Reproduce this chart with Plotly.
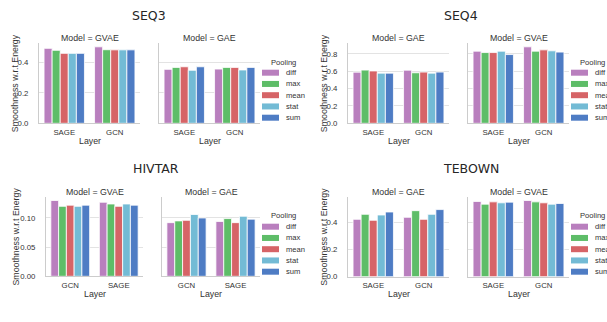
import plotly.graph_objects as go

# ---------------- data ----------------
POOLINGS = ["diff", "max", "mean", "stat", "sum"]
COLORS = ["#B97FBE", "#5EBD68", "#D66467", "#73BBD5", "#4E7CC4"]

# SEQ3
SEQ3_MODELS = ["GVAE", "GAE"]
SEQ3_LAYERS = ["SAGE", "GCN"]
SEQ3_GVAE_SAGE = [0.492, 0.479, 0.459, 0.459, 0.459]
SEQ3_GVAE_GCN = [0.502, 0.483, 0.482, 0.482, 0.482]
SEQ3_GAE_SAGE = [0.354, 0.367, 0.371, 0.348, 0.371]
SEQ3_GAE_GCN = [0.356, 0.367, 0.367, 0.350, 0.367]

# SEQ4
SEQ4_MODELS = ["GAE", "GVAE"]
SEQ4_LAYERS = ["SAGE", "GCN"]
SEQ4_GAE_SAGE = [0.589, 0.613, 0.603, 0.578, 0.578]
SEQ4_GAE_GCN = [0.612, 0.582, 0.590, 0.578, 0.590]
SEQ4_GVAE_SAGE = [0.831, 0.815, 0.815, 0.831, 0.792]
SEQ4_GVAE_GCN = [0.881, 0.831, 0.846, 0.835, 0.820]

# HIVTAR
HIVTAR_MODELS = ["GVAE", "GAE"]
HIVTAR_LAYERS = ["GCN", "SAGE"]
HIVTAR_GVAE_GCN = [0.130, 0.120, 0.122, 0.120, 0.122]
HIVTAR_GVAE_SAGE = [0.127, 0.124, 0.120, 0.124, 0.122]
HIVTAR_GAE_GCN = [0.092, 0.095, 0.096, 0.106, 0.100]
HIVTAR_GAE_SAGE = [0.094, 0.099, 0.092, 0.103, 0.098]

# TEBOWN
TEBOWN_MODELS = ["GAE", "GVAE"]
TEBOWN_LAYERS = ["SAGE", "GCN"]
TEBOWN_GAE_SAGE = [0.424, 0.461, 0.417, 0.456, 0.478]
TEBOWN_GAE_GCN = [0.439, 0.488, 0.424, 0.461, 0.496]
TEBOWN_GVAE_SAGE = [0.556, 0.536, 0.553, 0.546, 0.551]
TEBOWN_GVAE_GCN = [0.563, 0.553, 0.546, 0.536, 0.541]

SEQ3_TICKS = [0.0, 0.2, 0.4]
SEQ4_TICKS = [0.0, 0.2, 0.4, 0.6, 0.8]
HIVTAR_TICKS = [0.0, 0.05, 0.10]
TEBOWN_TICKS = [0.0, 0.2, 0.4]

# ---------------- layout helpers (pixel geometry) ----------------
W, H = 607, 322


def fx(x):
    return x / W


def fy(y):
    return 1 - y / H


TEXT = "#333333"
FONT = "Liberation Sans"

panels = [
    dict(title="SEQ3", tx=149, ty=16, models=SEQ3_MODELS, layers=SEQ3_LAYERS,
         vals=[[SEQ3_GVAE_SAGE, SEQ3_GVAE_GCN], [SEQ3_GAE_SAGE, SEQ3_GAE_GCN]],
         ticks=SEQ3_TICKS, fmt="{:.1f}", axes=[(39, 140), (159, 260)],
         ytop=43, ybot=123.3, ylab_x=15, sub_y=37.5, layer_y=140.5,
         leg_x=262, leg_ty=62, leg_y0=72.7),
    dict(title="SEQ4", tx=461, ty=16, models=SEQ4_MODELS, layers=SEQ4_LAYERS,
         vals=[[SEQ4_GAE_SAGE, SEQ4_GAE_GCN], [SEQ4_GVAE_SAGE, SEQ4_GVAE_GCN]],
         ticks=SEQ4_TICKS, fmt="{:.1f}", axes=[(348, 449), (468, 569)],
         ytop=43, ybot=123.3, ylab_x=324, sub_y=37.5, layer_y=140.5,
         leg_x=571, leg_ty=62, leg_y0=72.7),
    dict(title="HIVTAR", tx=156, ty=168, models=HIVTAR_MODELS, layers=HIVTAR_LAYERS,
         vals=[[HIVTAR_GVAE_GCN, HIVTAR_GVAE_SAGE], [HIVTAR_GAE_GCN, HIVTAR_GAE_SAGE]],
         ticks=HIVTAR_TICKS, fmt="{:.2f}", axes=[(46, 143), (162, 260)],
         ytop=196.7, ybot=276.3, ylab_x=15, sub_y=191.7, layer_y=294,
         leg_x=262, leg_ty=215, leg_y0=226.7),
    dict(title="TEBOWN", tx=471, ty=168, models=TEBOWN_MODELS, layers=TEBOWN_LAYERS,
         vals=[[TEBOWN_GAE_SAGE, TEBOWN_GAE_GCN], [TEBOWN_GVAE_SAGE, TEBOWN_GVAE_GCN]],
         ticks=TEBOWN_TICKS, fmt="{:.1f}", axes=[(348, 449), (468, 569)],
         ytop=196.7, ybot=276.7, ylab_x=324, sub_y=191.7, layer_y=294,
         leg_x=571, leg_ty=215, leg_y0=226.7),
]

fig = go.Figure()
layout = {}
annotations = []
shapes = []
LEG_STEP = 11.25

ax_i = 0
for p in panels:
    all_vals = [v for model in p["vals"] for layer in model for v in layer]
    ymax = max(all_vals) * 1.05
    for m_idx, (x0, x1) in enumerate(p["axes"]):
        ax_i += 1
        xa = "x" if ax_i == 1 else f"x{ax_i}"
        ya = "y" if ax_i == 1 else f"y{ax_i}"
        xkey = "xaxis" if ax_i == 1 else f"xaxis{ax_i}"
        ykey = "yaxis" if ax_i == 1 else f"yaxis{ax_i}"
        first_layer, second_layer = p["vals"][m_idx]
        for k, pool in enumerate(POOLINGS):
            fig.add_trace(go.Bar(
                x=p["layers"], y=[first_layer[k], second_layer[k]], name=pool,
                xaxis=xa, yaxis=ya, offsetgroup=pool,
                marker=dict(color=COLORS[k], line=dict(color="white", width=0.8)),
                showlegend=False,
            ))
        layout[xkey] = dict(
            domain=[fx(x0), fx(x1)], anchor=ya, type="category",
            categoryorder="array", categoryarray=p["layers"], range=[-0.5, 1.5],
            showgrid=False, zeroline=False, showline=True, linecolor="#CCCCCC",
            linewidth=1, ticks="", tickfont=dict(family=FONT, size=7.8, color=TEXT),
            ticklabelstandoff=1, automargin=False,
        )
        layout[ykey] = dict(
            domain=[fy(p["ybot"]), fy(p["ytop"])], anchor=xa, range=[0, ymax],
            tickvals=p["ticks"], ticktext=[p["fmt"].format(t) for t in p["ticks"]],
            showticklabels=(m_idx == 0), showgrid=True, gridcolor="#E3E3E3",
            gridwidth=1, zeroline=False, showline=True, linecolor="#CCCCCC",
            linewidth=1, ticks="", tickfont=dict(family=FONT, size=7.8, color=TEXT),
            ticklabelstandoff=8, automargin=False,
        )
        annotations.append(dict(
            text=f"Model = {p['models'][m_idx]}", x=fx((x0 + x1) / 2), y=fy(p["sub_y"]),
            xref="paper", yref="paper", showarrow=False, xanchor="center", yanchor="middle",
            font=dict(family=FONT, size=8.8, color=TEXT)))
        annotations.append(dict(
            text="Layer", x=fx((x0 + x1) / 2), y=fy(p["layer_y"]),
            xref="paper", yref="paper", showarrow=False, xanchor="center", yanchor="middle",
            font=dict(family=FONT, size=8.8, color=TEXT)))
    annotations.append(dict(
        text="Smoothness w.r.t Energy", x=fx(p["ylab_x"]), y=fy((p["ytop"] + p["ybot"]) / 2),
        xref="paper", yref="paper", showarrow=False, textangle=-90,
        xanchor="center", yanchor="middle", font=dict(family=FONT, size=8.8, color=TEXT)))
    annotations.append(dict(
        text=p["title"], x=fx(p["tx"]), y=fy(p["ty"]), xref="paper", yref="paper",
        showarrow=False, xanchor="center", yanchor="middle",
        font=dict(family="DejaVu Sans", size=12.5, color="#262626")))
    annotations.append(dict(
        text="Pooling", x=fx(p["leg_x"] + 21), y=fy(p["leg_ty"]), xref="paper", yref="paper",
        showarrow=False, xanchor="center", yanchor="middle",
        font=dict(family=FONT, size=7.6, color=TEXT)))
    for k, pool in enumerate(POOLINGS):
        cy = p["leg_y0"] + k * LEG_STEP
        shapes.append(dict(
            type="rect", xref="paper", yref="paper",
            x0=fx(p["leg_x"]), x1=fx(p["leg_x"] + 17), y0=fy(cy - 3), y1=fy(cy + 3),
            fillcolor=COLORS[k], line=dict(width=0)))
        annotations.append(dict(
            text=pool, x=fx(p["leg_x"] + 22), y=fy(cy), xref="paper", yref="paper",
            showarrow=False, xanchor="left", yanchor="middle",
            font=dict(family=FONT, size=7.6, color=TEXT)))

fig.update_layout(
    **layout,
    annotations=annotations,
    shapes=shapes,
    template="none",
    width=W, height=H,
    margin=dict(l=0, r=0, t=0, b=0),
    paper_bgcolor="white", plot_bgcolor="white",
    barmode="group", bargap=0.2, bargroupgap=0,
    showlegend=False,
)

fig.write_html("out.html")
